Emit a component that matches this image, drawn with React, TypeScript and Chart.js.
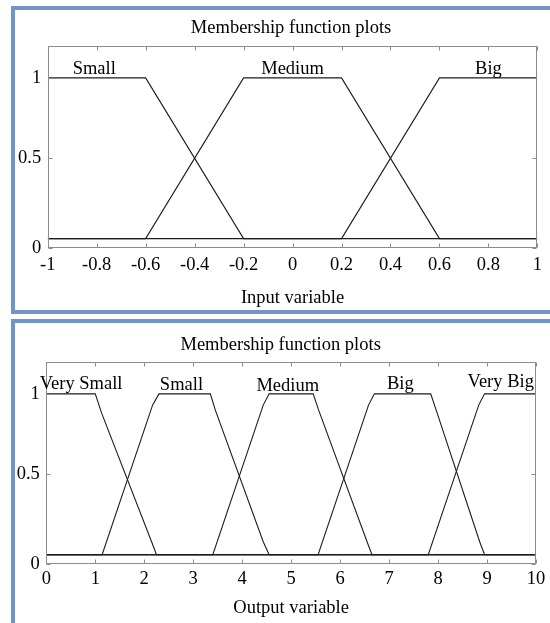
import React, { useEffect, useRef } from "react";
import { Chart, registerables } from "chart.js";

Chart.register(...registerables);

const FONT = "'Liberation Serif', 'Times New Roman', serif";
const FONT_SIZE = 18.5;
const TITLE_TEXT = "Membership function plots";

// ---------- shared y axis ----------
const Y_MIN = -0.06;
const Y_MAX = 1.2;
const Y_TICK_VALUES = [-0.06, 0.5, 1];
const Y_TICK_LABELS = ["0", "0.5", "1"];

// ---------- input variable (top chart) ----------
const INPUT_X_TICKS = [-1, -0.8, -0.6, -0.4, -0.2, 0, 0.2, 0.4, 0.6, 0.8, 1];
const INPUT_X_LABELS = ["-1", "-0.8", "-0.6", "-0.4", "-0.2", "0", "0.2", "0.4", "0.6", "0.8", "1"];
const IN_SMALL_X = [-1, -0.6, -0.2, 1];
const IN_SMALL_Y = [1, 1, 0, 0];
const IN_MEDIUM_X = [-1, -0.6, -0.2, 0.2, 0.6, 1];
const IN_MEDIUM_Y = [0, 0, 1, 1, 0, 0];
const IN_BIG_X = [-1, 0.2, 0.6, 1];
const IN_BIG_Y = [0, 0, 1, 1];
const INPUT_MF_NAMES = ["Small", "Medium", "Big"];
const INPUT_NAME_X = [-0.81, 0, 0.8];
const INPUT_NAME_Y = [1.025, 1.025, 1.025];

// ---------- output variable (bottom chart) ----------
const OUTPUT_X_TICKS = [0, 1, 2, 3, 4, 5, 6, 7, 8, 9, 10];
const OUTPUT_X_LABELS = ["0", "1", "2", "3", "4", "5", "6", "7", "8", "9", "10"];
const OUT_VSMALL_X = [0, 1.0, 1.13, 2.15, 2.25, 10];
const OUT_VSMALL_Y = [1, 1, 0.88, 0.08, 0, 0];
const OUT_SMALL_X = [0, 1.14, 2.17, 2.3, 3.35, 3.45, 4.43, 4.55, 10];
const OUT_SMALL_Y = [0, 0, 0.93, 1, 1, 0.9, 0.08, 0, 0];
const OUT_MEDIUM_X = [0, 3.4, 4.43, 4.55, 5.45, 5.56, 6.55, 6.65, 10];
const OUT_MEDIUM_Y = [0, 0, 0.93, 1, 1, 0.9, 0.08, 0, 0];
const OUT_BIG_X = [0, 5.55, 6.58, 6.7, 7.85, 7.96, 8.85, 8.95, 10];
const OUT_BIG_Y = [0, 0, 0.93, 1, 1, 0.9, 0.08, 0, 0];
const OUT_VBIG_X = [0, 7.8, 8.83, 8.95, 10];
const OUT_VBIG_Y = [0, 0, 0.93, 1, 1];
const OUTPUT_MF_NAMES = ["Very Small", "Small", "Medium", "Big", "Very Big"];
const OUTPUT_NAME_X = [0.71, 2.76, 4.93, 7.23, 9.28];
const OUTPUT_NAME_Y = [1.031, 1.025, 1.016, 1.029, 1.04];

const LINE_COLOR = "#1c1c1c";
const FRAME_COLOR = "#8c8c8c";
const TEXT_COLOR = "#000000";
const PANEL_BORDER = "#7195c5";

const framePlugin = {
  id: "mfFrame",
  afterDraw(chart: any, _args: any, opts: any) {
    const { ctx, chartArea, scales } = chart;
    const { left, right, top, bottom } = chartArea;
    const xs = scales.x;
    const ys = scales.y;
    const len = 4;
    ctx.save();
    ctx.strokeStyle = FRAME_COLOR;
    ctx.lineWidth = 1;
    const L = Math.round(left) + 0.5;
    const R = Math.round(right) - 0.5;
    const T = Math.round(top) + 0.5;
    const B = Math.round(bottom) - 0.5;
    ctx.beginPath();
    xs.ticks.forEach((t: any) => {
      const px = Math.round(xs.getPixelForValue(t.value)) + 0.5;
      ctx.moveTo(px, B);
      ctx.lineTo(px, B - len);
      ctx.moveTo(px, T);
      ctx.lineTo(px, T + len);
    });
    ys.ticks.forEach((t: any) => {
      const py = Math.round(ys.getPixelForValue(t.value)) + 0.5;
      ctx.moveTo(L, py);
      ctx.lineTo(L + len, py);
      ctx.moveTo(R, py);
      ctx.lineTo(R - len, py);
    });
    ctx.stroke();
    ctx.strokeRect(L, T, R - L, B - T);

    ctx.fillStyle = TEXT_COLOR;
    ctx.font = `${FONT_SIZE}px ${FONT}`;
    ctx.textAlign = "center";
    ctx.textBaseline = "alphabetic";
    // plot title
    ctx.fillText(opts.title, (left + right) / 2 + opts.titleDx, top - opts.titleGap);
    // membership function names
    (opts.names || []).forEach((n: string, i: number) => {
      ctx.fillText(n, xs.getPixelForValue(opts.nameX[i]), ys.getPixelForValue(opts.nameY[i]));
    });
    ctx.restore();
  },
};

function series(xs: number[], ys: number[]) {
  return {
    data: xs.map((x, i) => ({ x, y: ys[i] })),
    borderColor: LINE_COLOR,
    borderWidth: 1.1,
    pointRadius: 0,
    tension: 0,
    fill: false,
  };
}

type Spec = {
  datasets: any[];
  xMin: number;
  xMax: number;
  xTicks: number[];
  xLabels: string[];
  xTitle: string;
  names: string[];
  nameX: number[];
  nameY: number[];
  padTop: number;
  padR: number;
  yWidth: number;
  xHeight: number;
  titleDx: number;
  titleGap: number;
  tickPad: number;
  xTitlePadBottom: number;
};

function makeConfig(s: Spec): any {
  const font = { family: FONT, size: FONT_SIZE, weight: "normal" as const };
  return {
    type: "line",
    data: { datasets: s.datasets },
    plugins: [framePlugin],
    options: {
      animation: false,
      responsive: false,
      events: [],
      layout: { padding: { left: 0, right: s.padR, top: s.padTop, bottom: 0 } },
      plugins: {
        legend: { display: false },
        tooltip: { enabled: false },
        title: { display: false },
        mfFrame: {
          title: TITLE_TEXT,
          titleDx: s.titleDx,
          titleGap: s.titleGap,
          names: s.names,
          nameX: s.nameX,
          nameY: s.nameY,
        },
      },
      scales: {
        x: {
          type: "linear",
          min: s.xMin,
          max: s.xMax,
          grid: { display: false, drawTicks: false },
          border: { display: false },
          afterBuildTicks: (sc: any) => {
            sc.ticks = s.xTicks.map((v) => ({ value: v }));
          },
          afterFit: (sc: any) => {
            sc.height = s.xHeight;
          },
          ticks: {
            autoSkip: false,
            maxRotation: 0,
            minRotation: 0,
            padding: s.tickPad,
            color: TEXT_COLOR,
            font,
            callback: (v: number) => {
              const i = s.xTicks.indexOf(v);
              return i >= 0 ? s.xLabels[i] : "";
            },
          },
          title: {
            display: true,
            text: s.xTitle,
            color: TEXT_COLOR,
            font,
            padding: { top: 0, bottom: s.xTitlePadBottom },
          },
        },
        y: {
          type: "linear",
          min: Y_MIN,
          max: Y_MAX,
          grid: { display: false, drawTicks: false },
          border: { display: false },
          afterBuildTicks: (sc: any) => {
            sc.ticks = Y_TICK_VALUES.map((v) => ({ value: v }));
          },
          afterFit: (sc: any) => {
            sc.width = s.yWidth;
          },
          ticks: {
            padding: 6.5,
            color: TEXT_COLOR,
            font,
            callback: (v: number) => {
              const i = Y_TICK_VALUES.indexOf(v);
              return i >= 0 ? Y_TICK_LABELS[i] : "";
            },
          },
        },
      },
    },
  };
}

function MfCanvas({ spec }: { spec: Spec }) {
  const ref = useRef<HTMLCanvasElement | null>(null);
  useEffect(() => {
    if (!ref.current) return;
    const chart = new Chart(ref.current, makeConfig(spec));
    return () => chart.destroy();
  }, []);
  return (
    <canvas
      ref={ref}
      width={535}
      height={300}
      style={{ position: "absolute", left: 0, top: 0, width: 535, height: 300 }}
    />
  );
}

const inputSpec: Spec = {
  datasets: [
    series(IN_SMALL_X, IN_SMALL_Y),
    series(IN_MEDIUM_X, IN_MEDIUM_Y),
    series(IN_BIG_X, IN_BIG_Y),
  ],
  xMin: -1,
  xMax: 1,
  xTicks: INPUT_X_TICKS,
  xLabels: INPUT_X_LABELS,
  xTitle: "Input variable",
  names: INPUT_MF_NAMES,
  nameX: INPUT_NAME_X,
  nameY: INPUT_NAME_Y,
  padTop: 35.7,
  padR: 12.6,
  yWidth: 32.7,
  xHeight: 61.7,
  titleDx: -1.5,
  titleGap: 12.4,
  tickPad: 5.5,
  xTitlePadBottom: 0.5,
};

const outputSpec: Spec = {
  datasets: [
    series(OUT_VSMALL_X, OUT_VSMALL_Y),
    series(OUT_SMALL_X, OUT_SMALL_Y),
    series(OUT_MEDIUM_X, OUT_MEDIUM_Y),
    series(OUT_BIG_X, OUT_BIG_Y),
    series(OUT_VBIG_X, OUT_VBIG_Y),
  ],
  xMin: 0,
  xMax: 10,
  xTicks: OUTPUT_X_TICKS,
  xLabels: OUTPUT_X_LABELS,
  xTitle: "Output variable",
  names: OUTPUT_MF_NAMES,
  nameX: OUTPUT_NAME_X,
  nameY: OUTPUT_NAME_Y,
  padTop: 38.7,
  padR: 14,
  yWidth: 31.3,
  xHeight: 58.7,
  titleDx: -10.5,
  titleGap: 11.7,
  tickPad: 3.5,
  xTitlePadBottom: 3.8,
};

export default function App() {
  const panel: React.CSSProperties = {
    position: "absolute",
    left: 11,
    width: 600,
    border: `4px solid ${PANEL_BORDER}`,
    background: "#ffffff",
    boxSizing: "content-box",
  };
  return (
    <div
      style={{
        position: "fixed",
        left: 0,
        top: 0,
        width: 550,
        height: 623,
        overflow: "hidden",
        background: "#ffffff",
      }}
    >
      <div style={{ ...panel, top: 6, height: 300 }}>
        <MfCanvas spec={inputSpec} />
      </div>
      <div style={{ ...panel, top: 319, height: 400 }}>
        <MfCanvas spec={outputSpec} />
      </div>
    </div>
  );
}
